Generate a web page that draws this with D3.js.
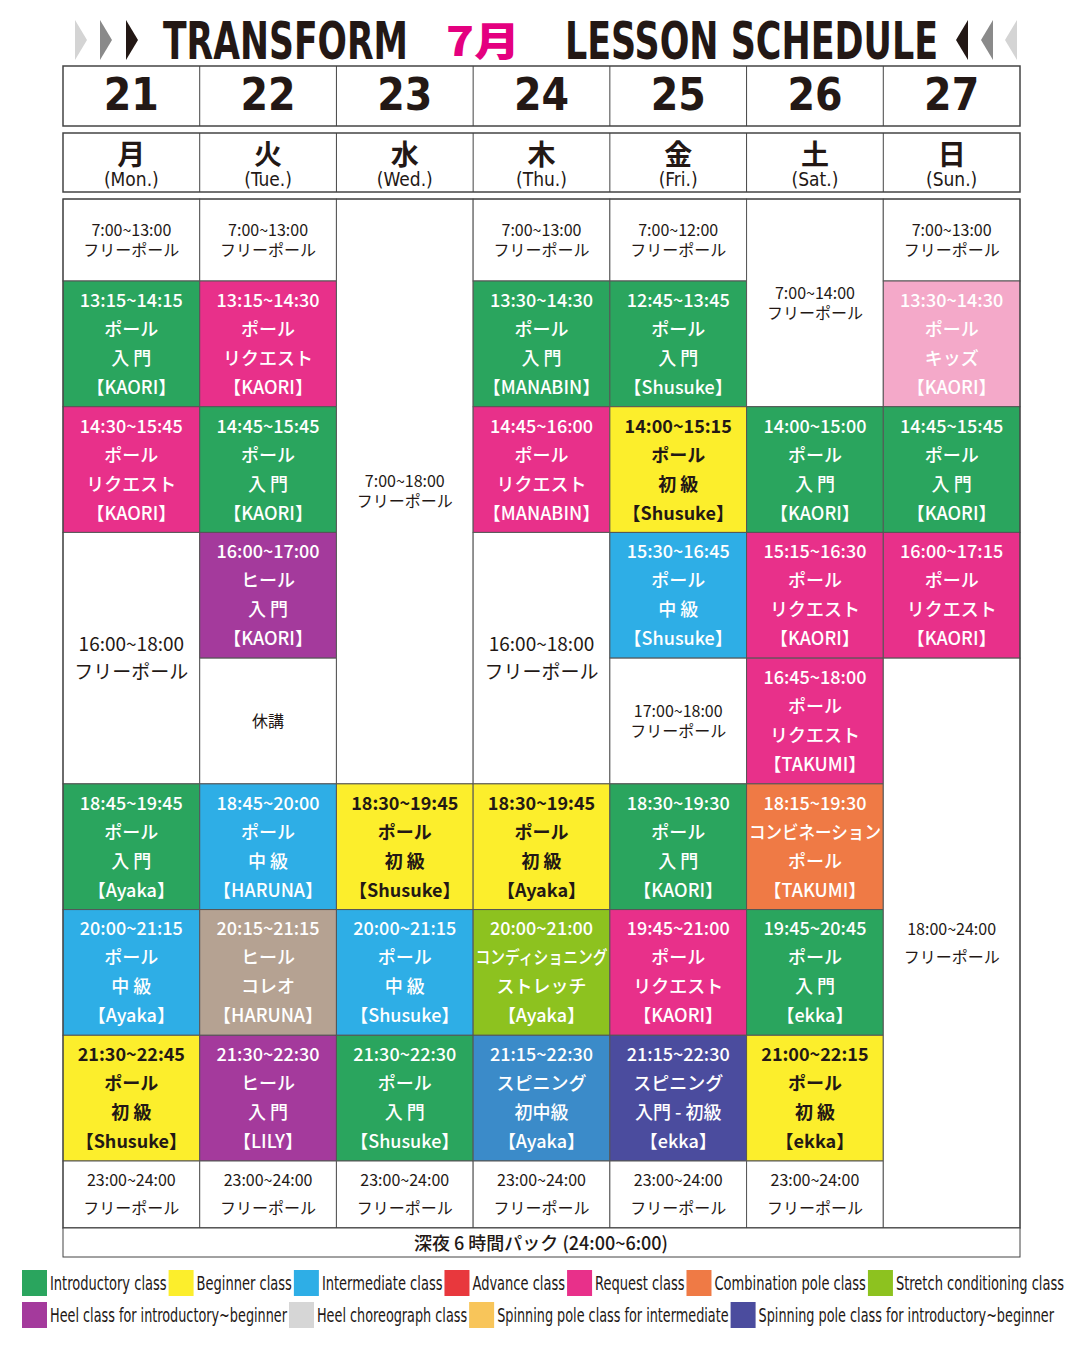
<!DOCTYPE html>
<html><head><meta charset="utf-8">
<script src="https://cdn.jsdelivr.net/npm/d3@7/dist/d3.min.js"></script>
<style>body{margin:0;background:#fff}svg{display:block}</style>
</head><body><svg width="1080" height="1350"></svg>
<script>
var dates = ["21","22","23","24","25","26","27"];
var daysJa = ["月","火","水","木","金","土","日"];
var daysEn = ["(Mon.)","(Tue.)","(Wed.)","(Thu.)","(Fri.)","(Sat.)","(Sun.)"];

var colors = {
  intro:"#2aa55e", beginner:"#fcee2c", inter:"#2eaee6", advance:"#e8383d",
  request:"#e8308a", combo:"#ef7a45", stretch:"#8dc21f", heel:"#a43a9c",
  choreo:"#b5a292", spinInter:"#3b8bc9", spinIntro:"#4b4c9e", kids:"#f4a9c9", free:"#ffffff"
};

// [day, fromSlot, toSlot, type, lines]
var cells = [
  [0,0,1,"free",["7:00~13:00","フリーポール"]],
  [0,1,2,"intro",["13:15~14:15","ポール","入 門","【KAORI】"]],
  [0,2,3,"request",["14:30~15:45","ポール","リクエスト","【KAORI】"]],
  [0,3,5,"free",["16:00~18:00","フリーポール"]],
  [0,5,6,"intro",["18:45~19:45","ポール","入 門","【Ayaka】"]],
  [0,6,7,"inter",["20:00~21:15","ポール","中 級","【Ayaka】"]],
  [0,7,8,"beginner",["21:30~22:45","ポール","初 級","【Shusuke】"]],
  [0,8,9,"free",["23:00~24:00","フリーポール"]],
  [1,0,1,"free",["7:00~13:00","フリーポール"]],
  [1,1,2,"request",["13:15~14:30","ポール","リクエスト","【KAORI】"]],
  [1,2,3,"intro",["14:45~15:45","ポール","入 門","【KAORI】"]],
  [1,3,4,"heel",["16:00~17:00","ヒール","入 門","【KAORI】"]],
  [1,4,5,"free",["休講"]],
  [1,5,6,"inter",["18:45~20:00","ポール","中 級","【HARUNA】"]],
  [1,6,7,"choreo",["20:15~21:15","ヒール","コレオ","【HARUNA】"]],
  [1,7,8,"heel",["21:30~22:30","ヒール","入 門","【LILY】"]],
  [1,8,9,"free",["23:00~24:00","フリーポール"]],
  [2,0,5,"free",["7:00~18:00","フリーポール"]],
  [2,5,6,"beginner",["18:30~19:45","ポール","初 級","【Shusuke】"]],
  [2,6,7,"inter",["20:00~21:15","ポール","中 級","【Shusuke】"]],
  [2,7,8,"intro",["21:30~22:30","ポール","入 門","【Shusuke】"]],
  [2,8,9,"free",["23:00~24:00","フリーポール"]],
  [3,0,1,"free",["7:00~13:00","フリーポール"]],
  [3,1,2,"intro",["13:30~14:30","ポール","入 門","【MANABIN】"]],
  [3,2,3,"request",["14:45~16:00","ポール","リクエスト","【MANABIN】"]],
  [3,3,5,"free",["16:00~18:00","フリーポール"]],
  [3,5,6,"beginner",["18:30~19:45","ポール","初 級","【Ayaka】"]],
  [3,6,7,"stretch",["20:00~21:00","コンディショニング","ストレッチ","【Ayaka】"]],
  [3,7,8,"spinInter",["21:15~22:30","スピニング","初中級","【Ayaka】"]],
  [3,8,9,"free",["23:00~24:00","フリーポール"]],
  [4,0,1,"free",["7:00~12:00","フリーポール"]],
  [4,1,2,"intro",["12:45~13:45","ポール","入 門","【Shusuke】"]],
  [4,2,3,"beginner",["14:00~15:15","ポール","初 級","【Shusuke】"]],
  [4,3,4,"inter",["15:30~16:45","ポール","中 級","【Shusuke】"]],
  [4,4,5,"free",["17:00~18:00","フリーポール"]],
  [4,5,6,"intro",["18:30~19:30","ポール","入 門","【KAORI】"]],
  [4,6,7,"request",["19:45~21:00","ポール","リクエスト","【KAORI】"]],
  [4,7,8,"spinIntro",["21:15~22:30","スピニング","入門 - 初級","【ekka】"]],
  [4,8,9,"free",["23:00~24:00","フリーポール"]],
  [5,0,2,"free",["7:00~14:00","フリーポール"]],
  [5,2,3,"intro",["14:00~15:00","ポール","入 門","【KAORI】"]],
  [5,3,4,"request",["15:15~16:30","ポール","リクエスト","【KAORI】"]],
  [5,4,5,"request",["16:45~18:00","ポール","リクエスト","【TAKUMI】"]],
  [5,5,6,"combo",["18:15~19:30","コンビネーション","ポール","【TAKUMI】"]],
  [5,6,7,"intro",["19:45~20:45","ポール","入 門","【ekka】"]],
  [5,7,8,"beginner",["21:00~22:15","ポール","初 級","【ekka】"]],
  [5,8,9,"free",["23:00~24:00","フリーポール"]],
  [6,0,1,"free",["7:00~13:00","フリーポール"]],
  [6,1,2,"kids",["13:30~14:30","ポール","キッズ","【KAORI】"]],
  [6,2,3,"intro",["14:45~15:45","ポール","入 門","【KAORI】"]],
  [6,3,4,"request",["16:00~17:15","ポール","リクエスト","【KAORI】"]],
  [6,4,9,"free",["18:00~24:00","フリーポール"]]
];

var legendRow1 = [["intro","Introductory class"],["beginner","Beginner class"],["inter","Intermediate class"],["advance","Advance class"],["request","Request class"],["combo","Combination pole class"],["stretch","Stretch conditioning class"]];
var legendRow2 = [["heel","Heel class for introductory~beginner"],["lightgray","Heel choreograph class"],["orangeY","Spinning pole class for intermediate"],["spinIntro","Spinning pole class for introductory~beginner"]];
var legendColors = Object.assign({}, colors, {lightgray:"#d6d6d6", orangeY:"#f8c55a"});

var svg = d3.select("svg");
var JP = "'Noto Sans CJK JP', sans-serif";
var COND = "'DejaVu Sans Condensed','Liberation Sans',sans-serif";
var INK = "#231815";

var x = d3.scaleBand().domain(d3.range(7)).range([63,1020]);
var y = d3.scaleLinear().domain([0,1,8,9]).range([199,281,1161,1228]);

// title
var title = svg.append("g");
function chev(x0, dir, fill){
  var w = 12*dir;
  title.append("path").attr("d","M"+x0+",20 L"+(x0+w)+",40 L"+x0+",60 Z").attr("fill",fill);
}
[[75,"#d4d4d4"],[100,"#8a8a8a"],[126,"#231815"]].forEach(function(c){chev(c[0],1,c[1]);});
[[968,"#231815"],[993,"#8a8a8a"],[1017,"#d4d4d4"]].forEach(function(c){chev(c[0],-1,c[1]);});
title.append("text").attr("x",163).attr("y",59).attr("textLength",245).attr("lengthAdjust","spacingAndGlyphs")
  .attr("font-family",COND).attr("font-weight","bold").attr("font-size",52).attr("fill",INK).text("TRANSFORM");
title.append("text").attr("x",446).attr("y",56).attr("textLength",74).attr("lengthAdjust","spacingAndGlyphs")
  .attr("font-family",JP).attr("font-weight","900").attr("font-size",40).attr("fill","#e4007f").text("7月");
title.append("text").attr("x",565).attr("y",59).attr("textLength",373).attr("lengthAdjust","spacingAndGlyphs")
  .attr("font-family",COND).attr("font-weight","bold").attr("font-size",52).attr("fill",INK).text("LESSON SCHEDULE");

// date header
var hdr = svg.append("g");
hdr.append("rect").attr("x",63).attr("y",66).attr("width",957).attr("height",60).attr("fill","none").attr("stroke","#444").attr("stroke-width",1.5);
hdr.append("rect").attr("x",63).attr("y",133).attr("width",957).attr("height",59).attr("fill","none").attr("stroke","#444").attr("stroke-width",1.5);
d3.range(1,7).forEach(function(i){
  hdr.append("line").attr("x1",x(i)).attr("x2",x(i)).attr("y1",66).attr("y2",126).attr("stroke","#444");
  hdr.append("line").attr("x1",x(i)).attr("x2",x(i)).attr("y1",133).attr("y2",192).attr("stroke","#444");
});
hdr.selectAll(".date").data(dates).join("text").attr("x",function(d,i){return x(i)+x.bandwidth()/2;}).attr("y",110)
  .attr("text-anchor","middle").attr("font-family",COND).attr("font-weight","bold").attr("font-size",44).attr("fill",INK).text(function(d){return d;});
hdr.selectAll(".dja").data(daysJa).join("text").attr("x",function(d,i){return x(i)+x.bandwidth()/2;}).attr("y",165)
  .attr("text-anchor","middle").attr("font-family",JP).attr("font-weight","bold").attr("font-size",28).attr("fill",INK).text(function(d){return d;});
hdr.selectAll(".den").data(daysEn).join("text").attr("x",function(d,i){return x(i)+x.bandwidth()/2;}).attr("y",186)
  .attr("text-anchor","middle").attr("font-family",COND).attr("font-size",19).attr("fill",INK).text(function(d){return d;});

// cells
var cg = svg.append("g").selectAll("g").data(cells).join("g");
cg.append("rect").attr("x",function(d){return x(d[0]);}).attr("y",function(d){return y(d[1]);})
  .attr("width",x.bandwidth()).attr("height",function(d){return y(d[2])-y(d[1]);})
  .attr("fill",function(d){return colors[d[3]];}).attr("stroke","#555").attr("stroke-width",1);
cg.each(function(d){
  var g = d3.select(this);
  var free = d[3]==="free";
  var cx = x(d[0])+x.bandwidth()/2, cy = (y(d[1])+y(d[2]))/2;
  var big = free && (d[2]-d[1])===2 && d[0]!==5;
  var step = free ? (big || (d[0]===6 && d[1]>0) || d[2]===9 ? 28 : 20) : 29;
  var n = d[4].length;
  var dark = free || d[3]==="beginner";
  g.selectAll("text").data(d[4]).join("text")
    .attr("x",cx).attr("y",function(t,i){return cy+(i-(n-1)/2)*step;})
    .attr("dy","0.36em").attr("text-anchor","middle").attr("font-family",JP)
    .attr("font-weight", free ? "normal" : (d[3]==="beginner" ? "bold" : "500"))
    .attr("font-size", free ? (big ? 19 : 16) : 18)
    .attr("fill", dark ? INK : "#fff")
    .attr("textLength", function(t){return t.length>7 && !free && /[ァ-ン]/.test(t) ? 132 : null;})
    .attr("lengthAdjust","spacingAndGlyphs")
    .text(function(t){return t;});
});
svg.append("rect").attr("x",63).attr("y",199).attr("width",957).attr("height",1029).attr("fill","none").attr("stroke","#444").attr("stroke-width",1.2);

// footer
svg.append("rect").attr("x",63).attr("y",1228).attr("width",957).attr("height",29).attr("fill","#fff").attr("stroke","#444");
svg.append("text").attr("x",541).attr("y",1250).attr("text-anchor","middle").attr("font-family",JP).attr("font-weight","500").attr("font-size",18).attr("fill",INK).text("深夜 6 時間パック (24:00~6:00)");

// legend: lay out, then squeeze text so the row ends at rightEdge
function legendRow(items, yy, rightEdge){
  var g = svg.append("g");
  var texts = items.map(function(it){
    return g.append("text").attr("y",yy+20).attr("font-family",COND).attr("font-size",19)
      .attr("fill",INK).attr("lengthAdjust","spacingAndGlyphs").text(it[1]);
  });
  var widths = texts.map(function(t){return t.node().getComputedTextLength();});
  var k = (rightEdge - 22 - items.length*30) / d3.sum(widths);
  var cur = 22;
  items.forEach(function(it, i){
    g.append("rect").attr("x",cur).attr("y",yy).attr("width",25).attr("height",26).attr("fill",legendColors[it[0]]);
    texts[i].attr("x",cur+28).attr("textLength",widths[i]*k);
    cur += 30 + widths[i]*k;
  });
}
legendRow(legendRow1, 1270, 1066);
legendRow(legendRow2, 1302, 1056);
</script></body></html>
